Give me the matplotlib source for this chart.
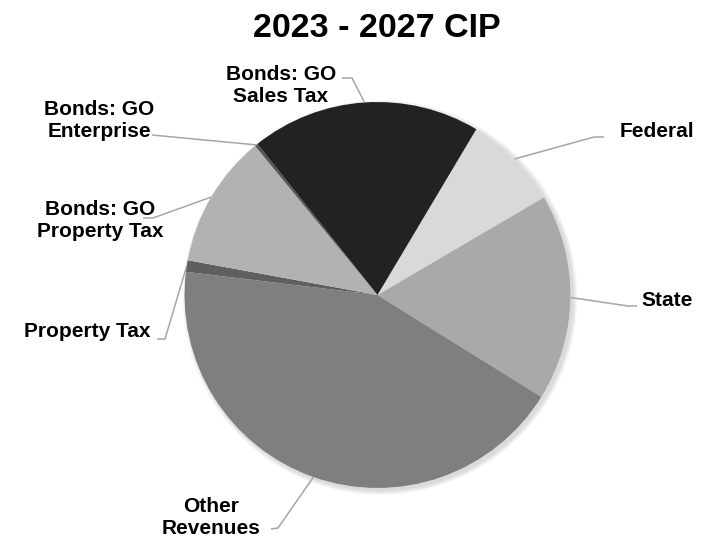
import numpy as np
import matplotlib
matplotlib.use('Agg')
import matplotlib.pyplot as plt

plt.rcParams['font.family'] = ['Liberation Sans', 'DejaVu Sans']

# ---- data (share of the 2023-2027 CIP, %) ----
labels = ['Federal', 'State', 'Other\nRevenues', 'Property Tax',
          'Bonds: GO\nProperty Tax', 'Bonds: GO\nEnterprise', 'Bonds: GO\nSales Tax']
shares = [8.0, 17.3, 43.06, 0.97, 11.17, 0.25, 19.25]
colors = ['#d9d9d9', '#a9a9a9', '#7f7f7f', '#5f5f5f', '#b2b2b2', '#555555', '#222222']

# ---- layout (pixels, origin top-left) ----
W, H = 703, 538
CX, CY, R = 377.5, 295, 193
# label text centre x, first baseline y, elbow point, line end near text
text_pos = [(657, 137), (667, 306), (211, 512), (87, 337), (100, 215), (99, 115), (281, 80)]
elbows = [(594, 137), (628, 306), (278, 528), (165, 339), (153, 218), (152, 135), (352, 78)]
ends = [(604, 137), (637, 306), (271, 529), (157, 339), (143, 218), (152, 135), (342, 78)]
LINE_GAP = 22

fig = plt.figure(figsize=(W / 100, H / 100), dpi=100)
ax = fig.add_axes([0, 0, 1, 1])

def py(y):
    return H - y

# soft shadow
for k in range(6):
    ax.add_patch(plt.Circle((CX + 2.5, py(CY) - 2.5), R + 0.5 + k * 0.8,
                            color='black', alpha=0.025, lw=0, zorder=0))
ax.add_patch(plt.Circle((CX, py(CY)), R, color='white', lw=0, zorder=0.5))

wedges, _ = ax.pie(shares, colors=colors, startangle=59.2, counterclock=False,
                   center=(CX, py(CY)), radius=R,
                   wedgeprops=dict(linewidth=0))

for w, lab, (tx, ty), (ex, ey), (lx, ly) in zip(wedges, labels, text_pos, elbows, ends):
    mid = np.deg2rad((w.theta1 + w.theta2) / 2)
    ax0 = CX + R * np.cos(mid)
    ay0 = py(CY) + R * np.sin(mid)
    ax.plot([ax0, ex, lx], [ay0, py(ey), py(ly)], color='#a6a6a6', lw=1.1,
            solid_capstyle='butt', zorder=3)
    for i, line in enumerate(lab.split('\n')):
        ax.text(tx, py(ty + i * LINE_GAP), line, ha='center', va='baseline',
                fontsize=15, fontweight='bold', color='black', zorder=4)

ax.text(377, py(37), '2023 - 2027 CIP', ha='center', va='baseline',
        fontsize=24.5, fontweight='bold', color='black')

ax.set_xlim(0, W)
ax.set_ylim(0, H)
ax.set_aspect('equal')
ax.axis('off')

fig.savefig('out.png', dpi=100, facecolor='white')
